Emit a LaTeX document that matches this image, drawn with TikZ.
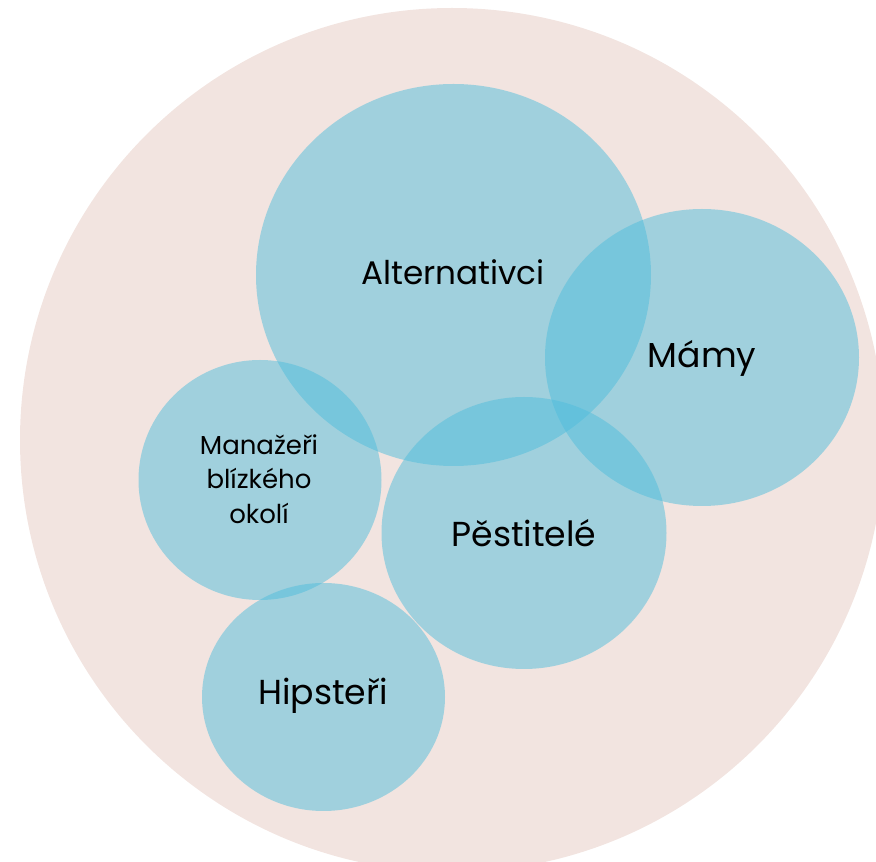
\documentclass[tikz,border=0pt]{standalone}
\usepackage{fontspec}
\setmainfont{Poppins}
\definecolor{bgpink}{RGB}{242,228,224}
\definecolor{groupblue}{RGB}{80,190,220}
\tikzset{
  group/.style={fill=groupblue, fill opacity=0.5, draw=none},
  label/.style={text=black, align=center}
}
\begin{document}
\begin{tikzpicture}[x=0.75pt,y=0.75pt,yscale=-1,xscale=1]
\useasboundingbox (0,0) rectangle (876,862);
\clip (0,0) rectangle (876,862);

%Shape: Circle [id:background]
\fill [bgpink] (20,440) .. controls (20,201.41) and (213.41,8) .. (452,8) .. controls (690.59,8) and (884,201.41) .. (884,440) .. controls (884,678.59) and (690.59,872) .. (452,872) .. controls (213.41,872) and (20,678.59) .. (20,440) -- cycle ;
%Shape: Ellipse [id:alternativci]
\path [group] (256,275) .. controls (256,169.51) and (344.42,84) .. (453.5,84) .. controls (562.58,84) and (651,169.51) .. (651,275) .. controls (651,380.49) and (562.58,466) .. (453.5,466) .. controls (344.42,466) and (256,380.49) .. (256,275) -- cycle ;
%Shape: Ellipse [id:mamy]
\path [group] (545,357.5) .. controls (545,275.48) and (615.29,209) .. (702,209) .. controls (788.71,209) and (859,275.48) .. (859,357.5) .. controls (859,439.52) and (788.71,506) .. (702,506) .. controls (615.29,506) and (545,439.52) .. (545,357.5) -- cycle ;
%Shape: Ellipse [id:manazeri]
\path [group] (138.5,480) .. controls (138.5,413.72) and (192.9,360) .. (260,360) .. controls (327.1,360) and (381.5,413.72) .. (381.5,480) .. controls (381.5,546.28) and (327.1,600) .. (260,600) .. controls (192.9,600) and (138.5,546.28) .. (138.5,480) -- cycle ;
%Shape: Ellipse [id:pestitele]
\path [group] (381.5,533) .. controls (381.5,457.89) and (445.3,397) .. (524,397) .. controls (602.7,397) and (666.5,457.89) .. (666.5,533) .. controls (666.5,608.11) and (602.7,669) .. (524,669) .. controls (445.3,669) and (381.5,608.11) .. (381.5,533) -- cycle ;
%Shape: Ellipse [id:hipsteri]
\path [group] (202,697) .. controls (202,634.04) and (256.4,583) .. (323.5,583) .. controls (390.6,583) and (445,634.04) .. (445,697) .. controls (445,759.96) and (390.6,811) .. (323.5,811) .. controls (256.4,811) and (202,759.96) .. (202,697) -- cycle ;

% Text Node
\draw (453,272) node [label, font=\fontsize{24.5}{29}\selectfont] (alt) {Alternativci};
% Text Node
\draw (702,358) node [label, font=\fontsize{26}{31}\selectfont] (mam) {Mámy};
% Text Node
\draw (259,479) node [label, font=\fontsize{19.5}{26}\selectfont] (man) {Manažeři\\blízkého\\okolí};
% Text Node
\draw (524,533) node [label, font=\fontsize{26}{31}\selectfont] (pes) {Pěstitelé};
% Text Node
\draw (323,696) node [label, font=\fontsize{26}{31}\selectfont] (hip) {Hipsteři};

\end{tikzpicture}
\end{document}
